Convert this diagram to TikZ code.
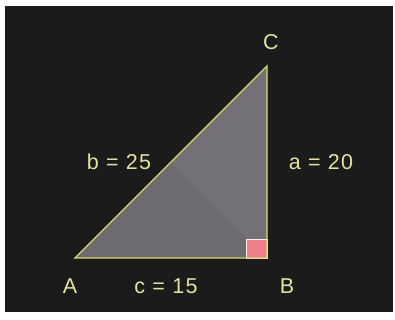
\documentclass[tikz,border=0pt]{standalone}
\usepackage{fontspec}
\setmainfont{Liberation Sans}
\newfontfamily\lblfont[LetterSpace=6]{Liberation Sans}
\usetikzlibrary{calc}
\definecolor{clBoard}{HTML}{1C1B1B}
\definecolor{clEdge}{HTML}{D8D870}
\definecolor{clText}{HTML}{E2E2A0}
\definecolor{clFace}{HTML}{6E6B70}
\definecolor{clMark}{HTML}{F08088}
\tikzset{
  side/.style={draw=clEdge, line width=1.3pt, line join=miter},
  face/.style={fill=clFace, draw=none},
  rightmark/.style={fill=clMark, draw=white!85!clMark, line width=1pt},
  lbl/.style={text=clText, font=\lblfont\fontsize{21.5}{21.5}\selectfont, inner sep=0pt},
}
\begin{document}
\begin{tikzpicture}[x=1pt, y=-1pt]
  \useasboundingbox (0,0) rectangle (395,320);
  \fill[white] (0,0) rectangle (395,320);
  \fill[clBoard] (5,6) rectangle (393,312);
  % vertices
  \coordinate (A) at (75,258);
  \coordinate (B) at (267,258);
  \coordinate (C) at (267,66);
  % triangle
  \path[face] (A) -- (B) -- (C) -- cycle;
  \path[face, fill=white, opacity=0.05] (C) -- ($(A)!0.5!(C)$) -- (B) -- cycle;
  \draw[rightmark] ($(B)+(-21,0)$) rectangle ($(B)+(0,-19)$);
  \draw[side] (A) -- (B) -- (C) -- cycle;
  % labels
  \node[lbl] (lA) at (70,286) {A};
  \node[lbl] (lB) at (287,286) {B};
  \node[lbl] (lC) at (271,42) {C};
  \node[lbl] (lc) at (166,286) {c = 15};
  \node[lbl] (lb) at (119,162) {b = 25};
  \node[lbl] (la) at (321,162) {a = 20};
\end{tikzpicture}
\end{document}
